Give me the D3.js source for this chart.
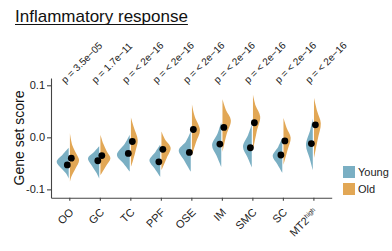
<!DOCTYPE html>
<html>
<head>
<meta charset='utf-8'>
<title>Inflammatory response</title>
<script src="https://cdnjs.cloudflare.com/ajax/libs/d3/7.8.5/d3.min.js"></script>
<style>
  body { margin: 0; background: #fff; }
  text { font-family: "Liberation Sans", Arial, sans-serif; }
</style>
</head>
<body>
<script>
    // cell types along the x axis
    const categories = ["OO", "GC", "TC", "PPF", "OSE", "IM", "SMC", "SC", "MT2"];
    const pLabels = ["p = 3.5e\u221205", "p = 1.7e\u221211", "p = < 2e\u221216", "p = < 2e\u221216",
        "p = < 2e\u221216", "p = < 2e\u221216", "p = < 2e\u221216", "p = < 2e\u221216", "p = < 2e\u221216"];
    const groups = ["Young", "Old"];
    const yTicks = [-0.1, 0.0, 0.1];

    // medians (black dots)
    const youngMedian = [-0.053, -0.045, -0.031, -0.047, -0.029, -0.013, -0.020, -0.034, -0.012];
    const oldMedian = [-0.040, -0.035, -0.008, -0.023, 0.015, 0.019, 0.028, -0.007, 0.024];

    // density profiles: [score, density]
    const youngDensity = [
        [[-0.020, 0], [-0.033, 15], [-0.047, 30], [-0.060, 18], [-0.070, 6], [-0.079, 0]],
        [[-0.017, 0], [-0.028, 13], [-0.040, 28], [-0.055, 18], [-0.068, 7], [-0.079, 0]],
        [[0.005, 0], [-0.012, 12], [-0.034, 32], [-0.050, 16], [-0.066, 0]],
        [[-0.014, 0], [-0.028, 12], [-0.044, 27], [-0.060, 14], [-0.076, 0]],
        [[0.011, 0], [-0.008, 12], [-0.025, 30], [-0.045, 16], [-0.066, 0]],
        [[0.029, 0], [0.008, 9], [-0.015, 23], [-0.035, 12], [-0.057, 0]],
        [[0.024, 0], [0.005, 9], [-0.018, 22], [-0.038, 11], [-0.058, 0]],
        [[-0.001, 0], [-0.018, 10], [-0.036, 24], [-0.052, 12], [-0.068, 0]],
        [[0.036, 0], [0.015, 6], [-0.015, 17], [-0.040, 8], [-0.063, 0]]
    ];
    const oldDensity = [
        [[0.008, 0], [-0.015, 6], [-0.030, 15], [-0.044, 23], [-0.060, 14], [-0.075, 4], [-0.086, 0]],
        [[0.005, 0], [-0.012, 7], [-0.027, 16], [-0.040, 25], [-0.055, 14], [-0.073, 0]],
        [[0.038, 0], [0.020, 7], [-0.005, 17], [-0.025, 12], [-0.045, 5], [-0.057, 0]],
        [[0.011, 0], [-0.004, 9], [-0.020, 23], [-0.040, 13], [-0.063, 0]],
        [[0.063, 0], [0.040, 7], [0.014, 20], [-0.010, 10], [-0.034, 0]],
        [[0.073, 0], [0.052, 9], [0.033, 21], [0.005, 10], [-0.028, 0]],
        [[0.082, 0], [0.060, 7], [0.040, 18], [0.010, 9], [-0.024, 0]],
        [[0.037, 0], [0.018, 8], [-0.001, 18], [-0.025, 10], [-0.053, 0]],
        [[0.076, 0], [0.050, 8], [0.027, 17], [-0.005, 9], [-0.040, 0]]
    ];

    const colors = { Young: "#7aafc3", Old: "#e2a755" };
    const w = 392, h = 251;

    const x = d3.scalePoint().domain(categories).range([51, 331.7]).padding(0.6);
    const y = d3.scaleLinear().domain([-0.116, 0.114]).range([197.7, 78]);
    const dens = d3.scaleLinear().domain([0, 30]).range([0, 12]);

    const svg = d3.select("body").append("svg")
        .attr("width", w)
        .attr("height", h);

    // title
    const title = svg.append("text")
        .attr("x", 15).attr("y", 22)
        .attr("font-size", 17)
        .attr("fill", "#111")
        .text("Inflammatory response");
    const tw = title.node().getComputedTextLength();
    svg.append("line")
        .attr("x1", 15).attr("x2", 15 + tw)
        .attr("y1", 24.5).attr("y2", 24.5)
        .attr("stroke", "#111").attr("stroke-width", 1.2);

    // violins
    const half = (cx, side) => d3.area()
        .curve(d3.curveCatmullRom)
        .y(d => y(d[0]))
        .x0(cx + side * 0.6)
        .x1(d => cx + side * (0.6 + dens(d[1])));

    categories.forEach((c, i) => {
        const cx = x(c);
        svg.append("path")
            .datum(youngDensity[i])
            .attr("d", half(cx, -1))
            .attr("fill", colors.Young);
        svg.append("path")
            .datum(oldDensity[i])
            .attr("d", half(cx, 1))
            .attr("fill", colors.Old);
    });

    // medians
    svg.selectAll("circle.young")
        .data(youngMedian)
        .enter().append("circle")
        .attr("cx", (d, i) => x(categories[i]) - 2)
        .attr("cy", d => y(d))
        .attr("r", 3.4)
        .attr("fill", "#000");
    svg.selectAll("circle.old")
        .data(oldMedian)
        .enter().append("circle")
        .attr("cx", (d, i) => x(categories[i]) + 2)
        .attr("cy", d => y(d))
        .attr("r", 3.4)
        .attr("fill", "#000");

    // p values
    svg.selectAll("text.pval")
        .data(pLabels)
        .enter().append("text")
        .attr("class", "pval")
        .attr("transform", (d, i) => "translate(" + (x(categories[i]) - 4) + ",84) rotate(-45)")
        .attr("font-size", 10)
        .attr("fill", "#222")
        .text(d => d);

    // axes
    const yAxis = d3.axisLeft(y)
        .tickValues(yTicks)
        .tickSize(4)
        .tickSizeOuter(0)
        .tickPadding(2)
        .tickFormat(d => d.toFixed(1));
    const gy = svg.append("g")
        .attr("transform", "translate(51,0)")
        .call(yAxis);
    gy.selectAll("text").attr("font-size", 11).attr("fill", "#222")
        .style("font-family", '"Liberation Sans", Arial, sans-serif');

    const xAxis = d3.axisBottom(x).tickSize(3).tickSizeOuter(0).tickFormat("");
    const gx = svg.append("g")
        .attr("transform", "translate(0,197.7)")
        .call(xAxis);
    [gx, gy].forEach(g => {
        g.selectAll("path, line").attr("stroke", "#444").attr("stroke-width", 1.1);
    });

    // x tick labels
    const xl = svg.selectAll("text.xlab")
        .data(categories)
        .enter().append("text")
        .attr("class", "xlab")
        .attr("transform", d => "translate(" + (x(d) + 5) + ",213) rotate(-45)")
        .attr("text-anchor", "end")
        .attr("font-size", 11)
        .attr("fill", "#222");
    xl.filter(d => d !== "MT2").text(d => d);
    const mt = xl.filter(d => d === "MT2");
    mt.append("tspan").text("MT2");
    mt.append("tspan").attr("font-size", 6.5).attr("dy", -4).text("high");

    // y title
    svg.append("text")
        .attr("transform", "translate(24,138) rotate(-90)")
        .attr("text-anchor", "middle")
        .attr("font-size", 14)
        .attr("fill", "#111")
        .text("Gene set score");

    // legend
    const lg = svg.selectAll("g.legend")
        .data(groups)
        .enter().append("g")
        .attr("class", "legend")
        .attr("transform", (d, i) => "translate(343," + (166 + i * 17) + ")");
    lg.append("rect")
        .attr("width", 12).attr("height", 12)
        .attr("fill", d => colors[d]);
    lg.append("text")
        .attr("x", 15).attr("y", 10)
        .attr("font-size", 11)
        .attr("fill", "#222")
        .text(d => d);
</script>
</body>
</html>
